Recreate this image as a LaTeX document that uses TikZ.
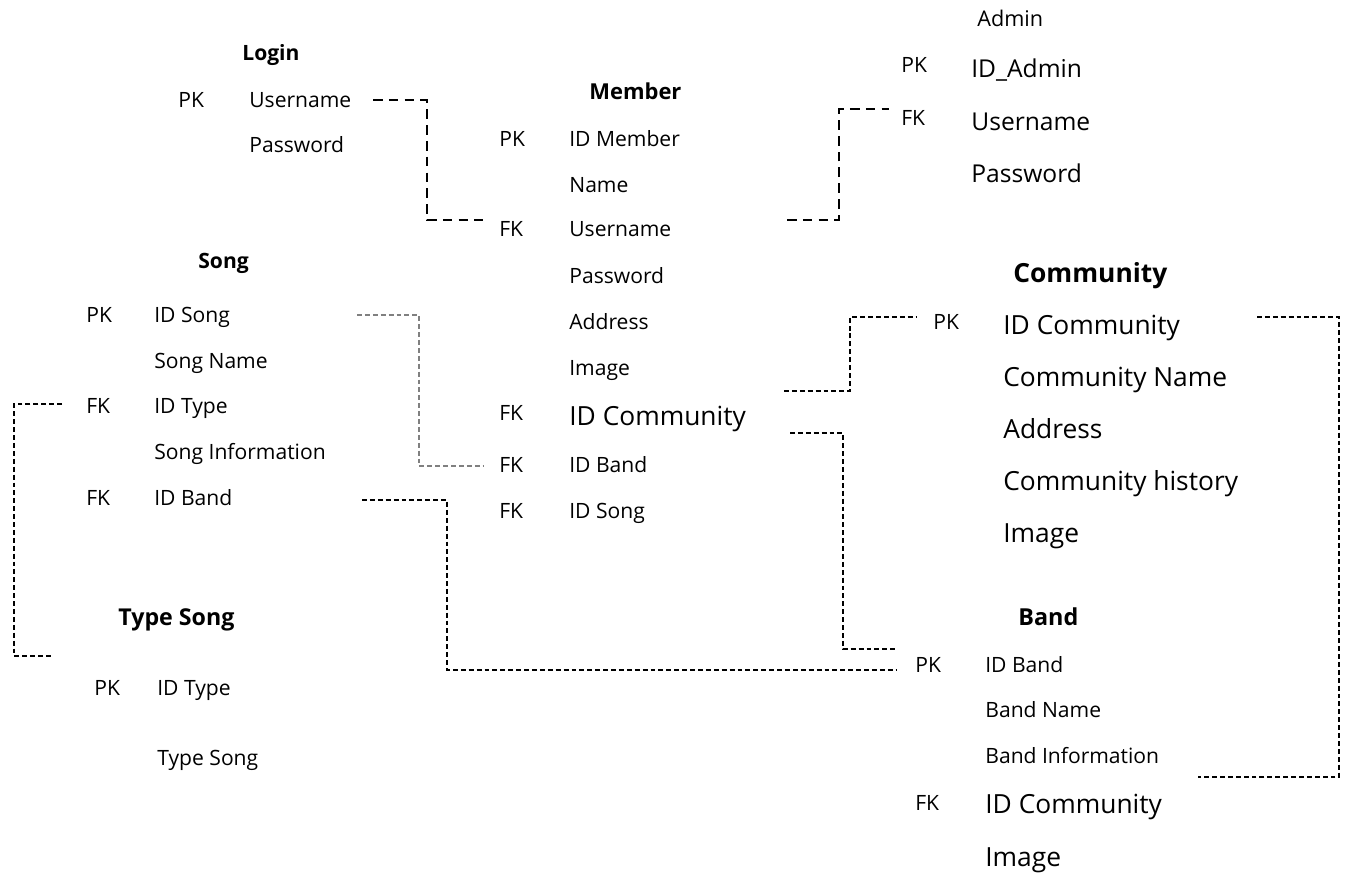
\documentclass[tikz,border=0pt]{standalone}
\usepackage{fontspec}
\setmainfont{Open Sans}
\usetikzlibrary{positioning}

\tikzset{
  ent/.style={anchor=base west, inner sep=0pt, font=\fontsize{12}{14}\selectfont\bfseries},
  fld/.style={anchor=base west, inner sep=0pt, font=\fontsize{12}{14}\selectfont},
  adfld/.style={fld, font=\fontsize{14}{17}\selectfont},
  bigfld/.style={fld, font=\fontsize{15}{18}\selectfont},
  link/.style={line width=0.6pt, dash pattern=on 2.8pt off 1.7pt},
  boldlink/.style={line width=1.2pt, dash pattern=on 5.5pt off 3.5pt}
}

\begin{document}
\begin{tikzpicture}[x=0.02cm, y=-0.02cm]
        \useasboundingbox (0,0) rectangle (1345,873);

        % Nodes
        \node (lg) [ent] at (242,60) {Login};
        \node (lgPK) [fld] at (178,107) {PK};
        \node (lgUser) [fld] at (249,107) {Username};
        \node (lgPass) [fld] at (249,152) {Password};

        \node (mb) [ent, font=\fontsize{12.5}{15}\selectfont\bfseries] at (589,99) {Member};
        \node (mbPK) [fld] at (499,146) {PK};
        \node (mbID) [fld] at (569,146) {ID Member};
        \node (mbName) [fld] at (569,192) {Name};
        \node (mbFK1) [fld] at (499,236) {FK};
        \node (mbUser) [fld] at (569,236) {Username};
        \node (mbPass) [fld] at (569,283) {Password};
        \node (mbAddr) [fld] at (569,329) {Address};
        \node (mbImg) [fld] at (569,375) {Image};
        \node (mbFK2) [fld] at (499,420) {FK};
        \node (mbCom) [bigfld] at (569,425) {ID Community};
        \node (mbFK3) [fld] at (499,472) {FK};
        \node (mbBand) [fld] at (569,472) {ID Band};
        \node (mbFK4) [fld] at (499,518) {FK};
        \node (mbSong) [fld] at (569,518) {ID Song};

        \node (ad) [fld, font=\fontsize{12.3}{15}\selectfont] at (977,26) {Admin};
        \node (adPK) [fld] at (901,72) {PK};
        \node (adID) [adfld] at (971,77) {ID\_Admin};
        \node (adFK) [fld] at (901,125) {FK};
        \node (adUser) [adfld] at (971,130) {Username};
        \node (adPass) [adfld] at (971,182) {Password};

        \node (sg) [ent] at (198,268) {Song};
        \node (sgPK) [fld] at (86,322) {PK};
        \node (sgID) [fld] at (154,322) {ID Song};
        \node (sgName) [fld] at (154,368) {Song Name};
        \node (sgFK1) [fld] at (86,413) {FK};
        \node (sgType) [fld] at (154,413) {ID Type};
        \node (sgInfo) [fld] at (154,459) {Song Information};
        \node (sgFK2) [fld] at (86,505) {FK};
        \node (sgBand) [fld] at (154,505) {ID Band};

        \node (ty) [ent, font=\fontsize{13.2}{16}\selectfont\bfseries] at (118,625) {Type Song};
        \node (tyPK) [fld] at (94,695) {PK};
        \node (tyID) [fld] at (157,695) {ID Type};
        \node (tyName) [fld] at (157,765) {Type Song};

        \node (cm) [ent, font=\fontsize{15}{18}\selectfont\bfseries] at (1013,282) {Community};
        \node (cmPK) [fld] at (933,329) {PK};
        \node (cmID) [bigfld] at (1003,334) {ID Community};
        \node (cmName) [bigfld] at (1003,386) {Community Name};
        \node (cmAddr) [bigfld] at (1003,438) {Address};
        \node (cmHist) [bigfld] at (1003,490) {Community history};
        \node (cmImg) [bigfld] at (1003,542) {Image};

        \node (bd) [ent, font=\fontsize{13.3}{16}\selectfont\bfseries] at (1018,625) {Band};
        \node (bdPK) [fld] at (915,672) {PK};
        \node (bdID) [fld] at (985,672) {ID Band};
        \node (bdName) [fld] at (985,717) {Band Name};
        \node (bdInfo) [fld] at (985,763) {Band Information};
        \node (bdFK) [fld] at (915,810) {FK};
        \node (bdCom) [bigfld] at (985,813) {ID Community};
        \node (bdImg) [bigfld] at (985,866) {Image};

        % Link ends
        \coordinate (lgUser-r) at (373,100);
        \coordinate (mbUser-l) at (483,220);
        \coordinate (mbUser-r) at (787,220);
        \coordinate (adUser-l) at (889,109);
        \coordinate (sgID-r) at (357,315);
        \coordinate (mbBand-l) at (483,466);
        \coordinate (sgType-l) at (62,404);
        \coordinate (ty-l) at (53,656);
        \coordinate (sgBand-r) at (362,500);
        \coordinate (bdID-l) at (897,670);
        \coordinate (mbImg-r) at (784,391);
        \coordinate (cmID-l) at (917,317);
        \coordinate (mbCom-r) at (790,433);
        \coordinate (bd-l) at (895,649);
        \coordinate (cmID-r) at (1257,317);
        \coordinate (bdInfo-r) at (1198,777);

        % Links
        \draw[boldlink] (lgUser-r) -- ++(54,0) |- (mbUser-l);
        \draw[boldlink] (mbUser-r) -- ++(52,0) |- (adUser-l);

        \draw[link, gray] (sgID-r) -- ++(62,0) |- (mbBand-l);
        \draw[link] (sgType-l) -- ++(-48,0) |- (ty-l);
        \draw[link] (sgBand-r) -- ++(85,0) |- (bdID-l);

        \draw[link] (mbImg-r) -- ++(66,0) |- (cmID-l);
        \draw[link] (mbCom-r) -- ++(53,0) |- (bd-l);
        \draw[link] (cmID-r) -- ++(82,0) |- (bdInfo-r);

    \end{tikzpicture}
\end{document}
